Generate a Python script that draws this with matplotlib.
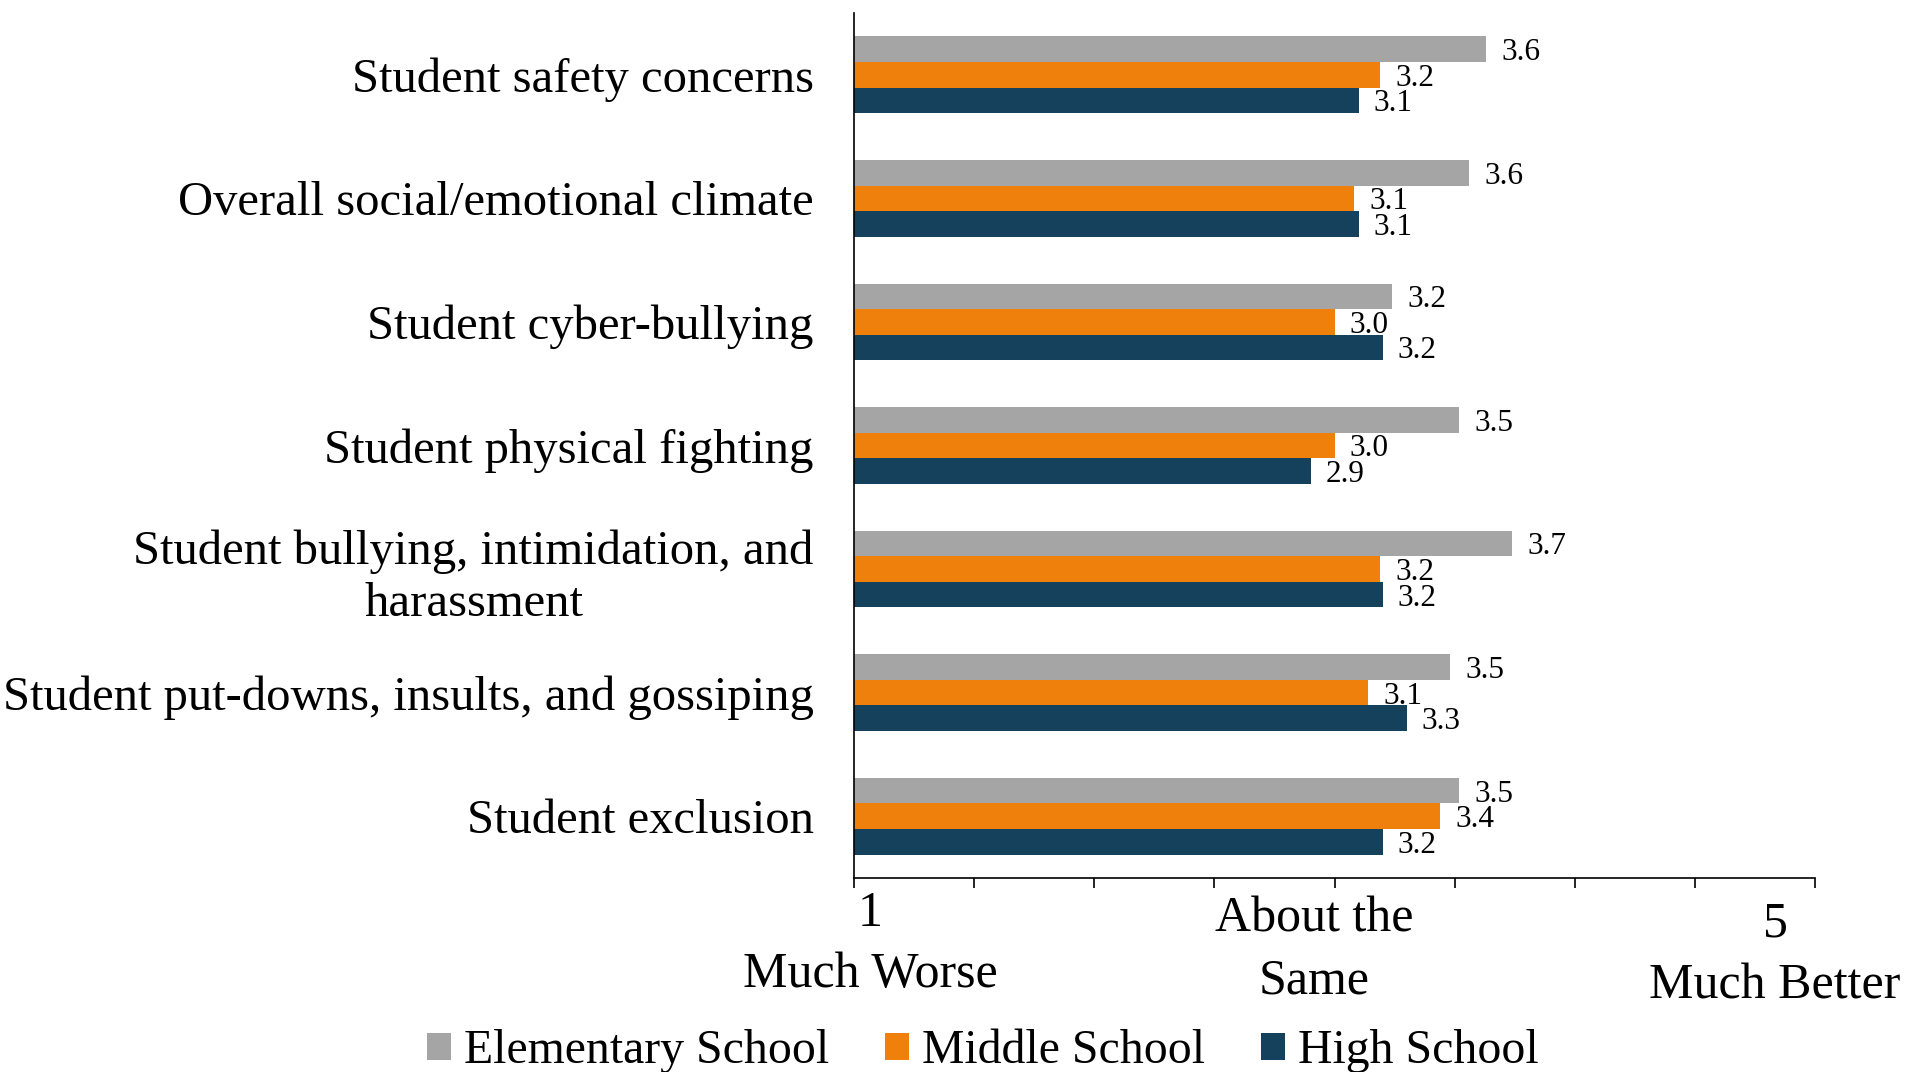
import numpy as np
import matplotlib
matplotlib.use("Agg")
import matplotlib.pyplot as plt
import matplotlib.transforms as mtransforms

plt.rcParams['font.family'] = ['Liberation Serif', 'DejaVu Serif']

categories = [
    "Student safety concerns",
    "Overall social/emotional climate",
    "Student cyber-bullying",
    "Student physical fighting",
    "Student bullying, intimidation, and\nharassment",
    "Student put-downs, insults, and gossiping",
    "Student exclusion",
]
elementary = [3.63, 3.56, 3.24, 3.52, 3.74, 3.48, 3.52]
middle = [3.19, 3.08, 3.00, 3.00, 3.19, 3.14, 3.44]
high = [3.10, 3.10, 3.20, 2.90, 3.20, 3.30, 3.20]
series_names = ["Elementary School", "Middle School", "High School"]
colors = ["#A5A5A5", "#F0800C", "#16415C"]
tick_vals = [1, 3, 5]
tick_labels = ["1\nMuch Worse", "About the\nSame", "5\nMuch Better"]

fig = plt.figure(figsize=(19.08, 10.72), dpi=100)
ax = fig.add_axes([0.4476, 0.1810, 0.5037, 0.8069])

y = np.arange(len(categories))
h = 0.207
for i, (vals, name, c) in enumerate(zip([elementary, middle, high], series_names, colors)):
    bars = ax.barh(y + (i - 1) * h, vals, height=h, left=0, color=c, label=name)
    texts = ax.bar_label(bars, fmt="%.1f", padding=11, fontsize=22.5)
    # labels sit a little below the bar centre in the original
    for t in texts:
        dx, dy = t.xyann
        t.xyann = (dx, dy - 2.5)

ax.set_xlim(1, 5)
ax.set_ylim(len(categories) - 0.5, -0.5)

ax.set_yticks(y)
ax.set_yticklabels(categories, fontsize=35, linespacing=1.24)
for lbl in ax.get_yticklabels():
    lbl.set_multialignment('center')
ax.tick_params(axis='y', length=0, pad=29)

ax.set_xticks(tick_vals)
ax.xaxis.set_minor_locator(matplotlib.ticker.FixedLocator([1.5, 2, 2.5, 3.5, 4, 4.5]))
ax.set_xticklabels(tick_labels, fontsize=36, linespacing=1.42)
ax.tick_params(axis='x', which='both', length=7, width=1.2, direction='out', pad=2)

offsets = [(16, 0), (-20, -6), (-40, -11)]
for lbl, (dx, dy) in zip(ax.get_xticklabels(), offsets):
    lbl.set_transform(lbl.get_transform() +
                      mtransforms.ScaledTranslation(dx / 100, dy / 100, fig.dpi_scale_trans))

for side in ['top', 'right']:
    ax.spines[side].set_visible(False)
for side in ['left', 'bottom']:
    ax.spines[side].set_linewidth(1.2)

fig.legend(loc='center', bbox_to_anchor=(0.515, 0.0195), ncol=3, frameon=False,
           fontsize=34.4, handlelength=0.5, handleheight=0.5, handletextpad=0.27,
           columnspacing=1.17, borderaxespad=0, borderpad=0)

fig.savefig("out.png", dpi=100)
